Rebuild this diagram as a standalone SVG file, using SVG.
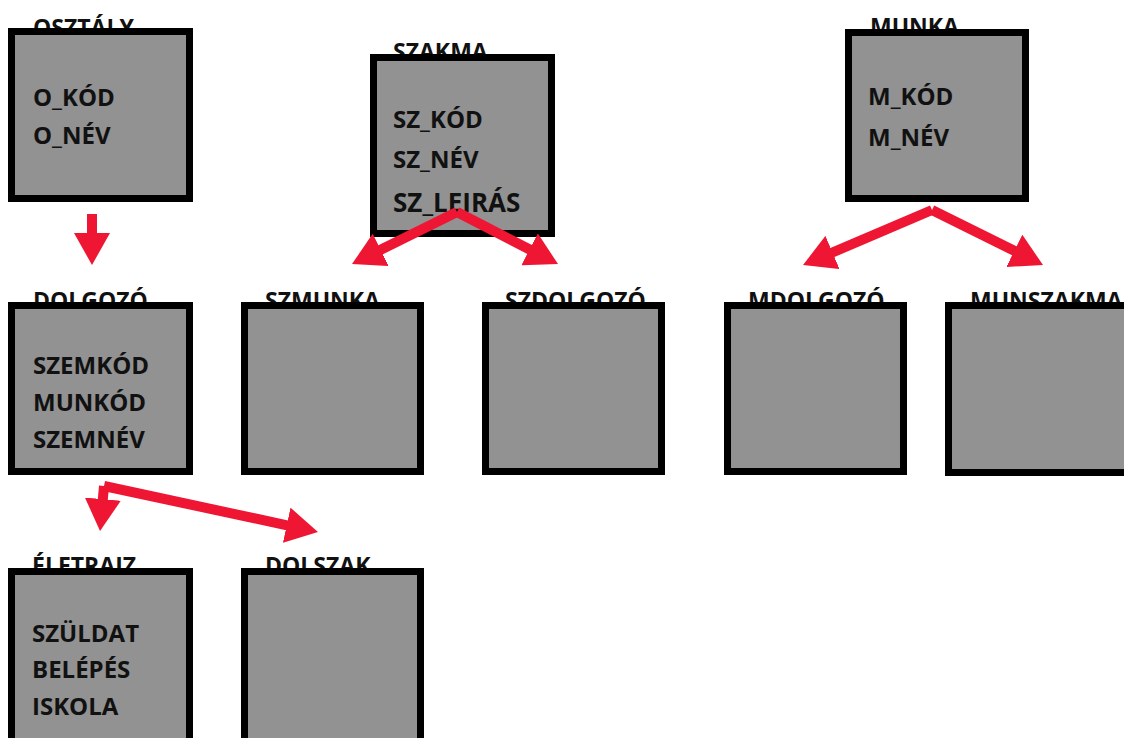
<svg xmlns="http://www.w3.org/2000/svg" width="1124" height="738" viewBox="0 0 1124 738">
<style>
.box{fill:#929292;stroke:#000;stroke-width:7}
.lbl{font-family:"Open Sans","Noto Sans",sans-serif;font-weight:700;font-size:23px;fill:#111}
.txt{font-family:"Open Sans","Noto Sans",sans-serif;font-weight:700;font-size:24px;fill:#111}
.big{font-size:26px}
.arr{stroke:#EE1632;stroke-width:10;fill:none;marker-end:url(#ah)}
</style>
<defs>
<marker id="ah" viewBox="0 0 32 36" markerWidth="32" markerHeight="36" markerUnits="userSpaceOnUse" refX="4" refY="18" orient="auto">
<path d="M0,0 L32,18 L0,36 z" fill="#EE1632"/>
</marker>
</defs>
<rect width="1124" height="738" fill="#fff"/>
<g id="osztaly">
<text class="lbl" x="33" y="36">OSZTÁLY</text>
<rect class="box" x="11.5" y="31.5" width="178" height="167"/>
<text class="txt" x="33" y="106">O_KÓD</text>
<text class="txt" x="33" y="144">O_NÉV</text>
</g>
<g id="szakma">
<text class="lbl" x="393" y="60">SZAKMA</text>
<rect class="box" x="373.5" y="57.5" width="178" height="176"/>
<text class="txt" x="393" y="128">SZ_KÓD</text>
<text class="txt" x="393" y="168">SZ_NÉV</text>
<text class="txt big" x="393" y="212">SZ_LEIRÁS</text>
</g>
<g id="munka">
<text class="lbl" x="870" y="35">MUNKA</text>
<rect class="box" x="848.5" y="32.5" width="177" height="166"/>
<text class="txt" x="868" y="105">M_KÓD</text>
<text class="txt" x="868" y="146">M_NÉV</text>
</g>
<g id="dolgozo">
<text class="lbl" x="33" y="309">DOLGOZÓ</text>
<rect class="box" x="11.5" y="305.5" width="178" height="166"/>
<text class="txt" x="33" y="374">SZEMKÓD</text>
<text class="txt" x="33" y="411">MUNKÓD</text>
<text class="txt" x="33" y="448">SZEMNÉV</text>
</g>
<g id="szmunka">
<text class="lbl" x="265" y="309">SZMUNKA</text>
<rect class="box" x="244.5" y="305.5" width="176" height="166"/>
</g>
<g id="szdolgozo">
<text class="lbl" x="505" y="309">SZDOLGOZÓ</text>
<rect class="box" x="485.5" y="305.5" width="176" height="166"/>
</g>
<g id="mdolgozo">
<text class="lbl" x="748" y="309">MDOLGOZÓ</text>
<rect class="box" x="727.5" y="305.5" width="176" height="166"/>
</g>
<g id="munszakma">
<text class="lbl" x="970" y="309">MUNSZAKMA</text>
<rect class="box" x="948.5" y="305.5" width="185" height="167"/>
</g>
<g id="eletrajz">
<text class="lbl" x="32" y="574">ÉLETRAJZ</text>
<rect class="box" x="11.5" y="571.5" width="178" height="180"/>
<text class="txt" x="32" y="642">SZÜLDAT</text>
<text class="txt" x="32" y="678">BELÉPÉS</text>
<text class="txt" x="32" y="715">ISKOLA</text>
</g>
<g id="dolszak">
<text class="lbl" x="265" y="574">DOLSZAK</text>
<rect class="box" x="244.5" y="571.5" width="176" height="180"/>
</g>
<g id="connectors">
<line class="arr" x1="92" y1="214" x2="92" y2="237"/>
<line class="arr" x1="457" y1="212" x2="377.1" y2="251.6"/>
<line class="arr" x1="457" y1="212" x2="533.1" y2="251.2"/>
<line class="arr" x1="932" y1="210" x2="828.8" y2="254"/>
<line class="arr" x1="932" y1="210" x2="1017.9" y2="252.6"/>
<line class="arr" x1="104" y1="486" x2="102.5" y2="503.1"/>
<line class="arr" x1="104" y1="486" x2="290.6" y2="526.1"/>
</g>
</svg>
